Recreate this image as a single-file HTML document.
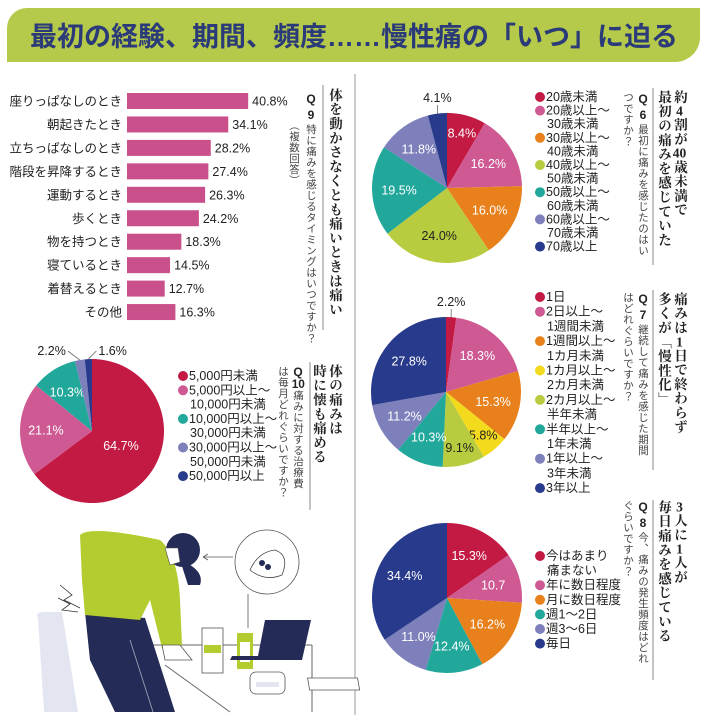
<!DOCTYPE html>
<html lang="ja"><head><meta charset="utf-8">
<style>
html,body{margin:0;padding:0;background:#fff;}
body{width:710px;height:718px;position:relative;overflow:hidden;font-family:"Liberation Sans","Noto Sans CJK JP",sans-serif;}
svg{position:absolute;left:0;top:0;}
.v{position:absolute;writing-mode:vertical-rl;white-space:nowrap;}
.t{font-family:"Liberation Serif","Noto Serif CJK SC",serif;font-weight:bold;font-size:13.5px;line-height:14px;width:14px;color:#222;letter-spacing:0.8px;}
.q{font-size:10.5px;line-height:11px;width:11px;color:#444;letter-spacing:0.5px;}
.q b{font-weight:bold;color:#222;font-size:12px;text-orientation:upright;letter-spacing:2px;}
.tcy{text-combine-upright:all;}
</style></head>
<body>
<svg width="710" height="718" viewBox="0 0 710 718">
  <path d="M27 8 H700 V37 A25 25 0 0 1 675 62 H7 V28 A20 20 0 0 1 27 8 Z" fill="#b5c94a"/>
  <text x="354" y="46" text-anchor="middle" font-size="27" font-weight="bold" fill="#2b3a78" font-family="Liberation Sans, Noto Sans CJK JP, sans-serif">最初の経験、期間、頻度……慢性痛の「いつ」に迫る</text>
  <line x1="355" y1="74" x2="355" y2="715" stroke="#999" stroke-width="1"/>
  <line x1="653" y1="88" x2="653" y2="265" stroke="#888"/>
  <line x1="653" y1="290" x2="653" y2="470" stroke="#888"/>
  <line x1="653" y1="500" x2="653" y2="680" stroke="#888"/>
  <line x1="323" y1="85" x2="323" y2="330" stroke="#888"/>
  <line x1="310" y1="362" x2="310" y2="510" stroke="#888"/>
  <g id="bars"></g>
  <g id="pies"></g>
  <g id="legends"></g>
  <g>
    <path d="M38 618 Q34 612 45 612 H62 L78 712 H44 Z" fill="#e3e6f0"/>
    <line x1="150" y1="645" x2="312" y2="645" stroke="#666" stroke-width="1"/>
    <line x1="312" y1="645" x2="312" y2="712" stroke="#666" stroke-width="1"/>
    <line x1="165" y1="665" x2="230" y2="712" stroke="#666" stroke-width="1"/>
    <path d="M85 612 L145 618 L175 712 H115 L90 660 Z" fill="#252b57"/>
    <line x1="130" y1="640" x2="153" y2="712" stroke="#aab" stroke-width="0.8"/>
    <path d="M80 535 Q90 525 160 540 Q178 555 180 600 L182 645 L162 648 L150 600 L140 620 L85 615 L82 580 Z" fill="#b5cc30"/>
    <path d="M162 645 L180 645 L192 660 L165 660 Z" fill="#fff" stroke="#555" stroke-width="0.8"/>
    <circle cx="183" cy="550" r="17" fill="#252b57"/>
    <path d="M180 560 Q205 570 200 585 L188 585 Z" fill="#252b57"/>
    <path d="M165 548 L178 548 L180 562 L170 565 Z" fill="#fff" stroke="#555" stroke-width="0.6"/>
    <path d="M60 585 L72 595 L64 600 L80 608 M58 598 L70 604 L62 610 L78 612" fill="none" stroke="#333" stroke-width="0.8"/>
    <rect x="202" y="628" width="21" height="45" fill="#fff" stroke="#555" stroke-width="0.8"/>
    <rect x="204" y="645" width="17" height="8" fill="#b5cc30"/>
    <rect x="237" y="633" width="16" height="36" fill="#b5cc30"/>
    <rect x="240" y="642" width="10" height="20" fill="#fff"/>
    <path d="M265 620 H311 L302 660 H230 L232 656 H258 Z" fill="#252b57"/>
    <rect x="188" y="678" width="50" height="12" fill="#fff" stroke="#555" stroke-width="0.8" transform="skewX(10)"/>
    <rect x="250" y="672" width="35" height="22" rx="6" fill="#fff" stroke="#555" stroke-width="0.8"/>
    <rect x="256" y="682" width="23" height="5" fill="#e3e6f0"/>
    <circle cx="267" cy="562" r="32" fill="#fff" stroke="#555" stroke-width="0.8"/>
    <path d="M250 570 Q258 552 275 550 Q290 555 282 575 Q265 582 250 570 Z" fill="#fff" stroke="#444" stroke-width="0.8"/>
    <circle cx="262" cy="563" r="3" fill="#252b57"/><circle cx="268" cy="567" r="3" fill="#252b57"/>
    <line x1="248" y1="594" x2="248" y2="628" stroke="#555" stroke-width="0.8"/>
    <line x1="233" y1="557" x2="203" y2="557" stroke="#555" stroke-width="0.8"/>
    <path d="M203 557 L208 554 M203 557 L208 560" stroke="#555" stroke-width="0.8"/>
  </g>
</svg>

<div class="v t" style="left:672px;top:90px;">約<span class="tcy">4</span>割が<span class="tcy">40</span>歳未満で</div>
<div class="v t" style="left:656px;top:90px;">最初の痛みを感じていた</div>
<div class="v q" style="left:637px;top:92px;"><b>Q6</b>最初に痛みを感じたのはい</div>
<div class="v q" style="left:622px;top:92px;">つですか？</div>

<div class="v t" style="left:672px;top:292px;">痛みは<span class="tcy">1</span>日で終わらず</div>
<div class="v t" style="left:656px;top:292px;">多くが「慢性化」</div>
<div class="v q" style="left:637px;top:292px;"><b>Q7</b>継続して痛みを感じた期間</div>
<div class="v q" style="left:622px;top:292px;">はどれぐらいですか？</div>

<div class="v t" style="left:672px;top:500px;"><span class="tcy">3</span>人に<span class="tcy">1</span>人が</div>
<div class="v t" style="left:656px;top:500px;">毎日痛みを感じている</div>
<div class="v q" style="left:637px;top:500px;"><b>Q8</b>今、痛みの発生頻度はどれ</div>
<div class="v q" style="left:622px;top:500px;">ぐらいですか？</div>

<div class="v t" style="left:327px;top:88px;">体を動かさなくとも痛いときは痛い</div>
<div class="v q" style="left:305px;top:92px;"><b>Q9</b>特に痛みを感じるタイミングはいつですか？</div>
<div class="v q" style="left:288px;top:120px;">（複数回答）</div>

<div class="v t" style="left:327px;top:364px;">体の痛みは</div>
<div class="v t" style="left:311px;top:364px;">時に懐も痛める</div>
<div class="v q" style="left:292px;top:366px;"><b class="tcy">Q</b><b class="tcy">10</b>痛みに対する治療費</div>
<div class="v q" style="left:277px;top:366px;">は毎月どれぐらいですか？</div>

<script>
const NS='http://www.w3.org/2000/svg';
// Q9 bar data
const barCats=['座りっぱなしのとき','朝起きたとき','立ちっぱなしのとき','階段を昇降するとき','運動するとき','歩くとき','物を持つとき','寝ているとき','着替えるとき','その他'];
const barVals=[40.8,34.1,28.2,27.4,26.3,24.2,18.3,14.5,12.7,16.3];
// Pie data
const q6Cats=['20歳未満','20歳以上～|30歳未満','30歳以上～|40歳未満','40歳以上～|50歳未満','50歳以上～|60歳未満','60歳以上～|70歳未満','70歳以上'];
const q6Vals=[8.4,16.2,16.0,24.0,19.5,11.8,4.1];
const q7Cats=['1日','2日以上～|1週間未満','1週間以上～|1カ月未満','1カ月以上～|2カ月未満','2カ月以上～|半年未満','半年以上～|1年未満','1年以上～|3年未満','3年以上'];
const q7Vals=[2.2,18.3,15.3,5.8,9.1,10.3,11.2,27.8];
const q8Cats=['今はあまり|痛まない','年に数日程度','月に数日程度','週1～2日','週3～6日','毎日'];
const q8Vals=[15.3,10.7,16.2,12.4,11.0,34.4];
const q8Labels=['15.3%','10.7','16.2%','12.4%','11.0%','34.4%'];
const q10Cats=['5,000円未満','5,000円以上～|10,000円未満','10,000円以上～|30,000円未満','30,000円以上～|50,000円未満','50,000円以上'];
const q10Vals=[64.7,21.1,10.3,2.2,1.6];

function mk(tag,attrs,parent){const e=document.createElementNS(NS,tag);for(const k in attrs)e.setAttribute(k,attrs[k]);parent.appendChild(e);return e;}

const bx0=127,bScale=2.97,by0=101,bStep=23.45,bH=16;
const xB=v=>bx0+v*bScale, yB=i=>by0+i*bStep;
const bg=document.getElementById('bars');
barCats.forEach((c,i)=>{
  const r=mk('rect',{x:bx0,y:yB(i)-bH/2,width:xB(barVals[i])-bx0,height:bH,fill:'#c9508a'},bg);
  
  
  const l=mk('text',{x:122,y:yB(i)+4.5,'text-anchor':'end','font-size':12.5,fill:'#222'},bg);
  l.textContent=c;
  
  
  const v=mk('text',{x:xB(barVals[i])+4,y:yB(i)+4.5,'font-size':12.5,fill:'#222'},bg);
  v.textContent=barVals[i].toFixed(1)+'%';
  
  
});

const C={red:'#c31a44',pink:'#cf5a93',orange:'#e8801b',lime:'#b9cc3f',teal:'#22a79b',lav:'#7d80bb',navy:'#283a8b',yellow:'#f3da1c'};
const pg=document.getElementById('pies'), lg=document.getElementById('legends');
function pie(name,vals,cols,cx,cy,r,labels,darkIdx){
  const tot=vals.reduce((a,b)=>a+b,0);
  let a=0;
  const outs=vals.map((v,i)=>v<5?i:-1).filter(i=>i>=0);
  vals.forEach((v,i)=>{
    const a0=a/tot*2*Math.PI, a1=(a+v)/tot*2*Math.PI; a+=v;
    const p=t=>[cx+r*Math.sin(t),cy-r*Math.cos(t)];
    const [x0,y0]=p(a0),[x1,y1]=p(a1);
    const path=mk('path',{d:`M${cx},${cy}L${x0},${y0}A${r},${r} 0 ${a1-a0>Math.PI?1:0} 1 ${x1},${y1}Z`,fill:cols[i]},pg);
    
    
    const m=(a0+a1)/2;
    const lab=labels?labels[i]:v.toFixed(1)+'%';
    let t;
    if(v<5){
      const k=outs.indexOf(i);
      const ex=cx+r*Math.sin(m), ey=cy-r*Math.cos(m);
      let anchor='middle',tx=ex;
      if(outs.length>1){ if(k===0){anchor='end';tx=ex-14;} else {anchor='start';tx=ex+10;} }
      mk('line',{x1:ex,y1:ey,x2:outs.length>1?(k===0?ex-12:ex+8):ex,y2:cy-r-8,stroke:'#666','stroke-width':0.8},pg);
      t=mk('text',{x:tx,y:cy-r-8+(outs.length>1?4:-3),'text-anchor':anchor,'font-size':12.5,fill:'#222'},pg);
    } else {
      const d=(v>50?0.45:(v<10?0.76:0.64))*r;
      t=mk('text',{x:cx+d*Math.sin(m),y:cy-d*Math.cos(m)+4.5,'text-anchor':'middle','font-size':12.5,fill:darkIdx.includes(i)?'#222':'#fff'},pg);
    }
    t.textContent=lab;
    
    
  });
}
function legend(name,cats,cols,x,y,lh){
  let yy=y;
  cats.forEach((c,i)=>{
    const parts=c.split('|');
    const d=mk('circle',{cx:x,cy:yy-4,r:5,fill:cols[i]},lg);
    
    
    parts.forEach((p,j)=>{
      const t=mk('text',{x:x+(j?7:6),y:yy,'font-size':12.5,fill:'#222'},lg);
      t.textContent=p;
      
      
      yy+=lh;
    });
  });
}
const q6Cols=[C.red,C.pink,C.orange,C.lime,C.teal,C.lav,C.navy];
pie('q6',q6Vals,q6Cols,447,188,75,null,[3]);
legend('q6',q6Cats,q6Cols,540,101,13.6);
const q7Cols=[C.red,C.pink,C.orange,C.yellow,C.lime,C.teal,C.lav,C.navy];
pie('q7',q7Vals,q7Cols,446,392,75,null,[3,4]);
legend('q7',q7Cats,q7Cols,540,301,14.7);
const q8Cols=[C.red,C.pink,C.orange,C.teal,C.lav,C.navy];
pie('q8',q8Vals,q8Cols,447,598,75,q8Labels,[]);
legend('q8',q8Cats,q8Cols,540,560,14.6);
const q10Cols=[C.red,C.pink,C.teal,C.lav,C.navy];
pie('q10',q10Vals,q10Cols,92,431,72,null,[]);
legend('q10',q10Cats,q10Cols,183,380,14.3);
</script>
</body></html>
